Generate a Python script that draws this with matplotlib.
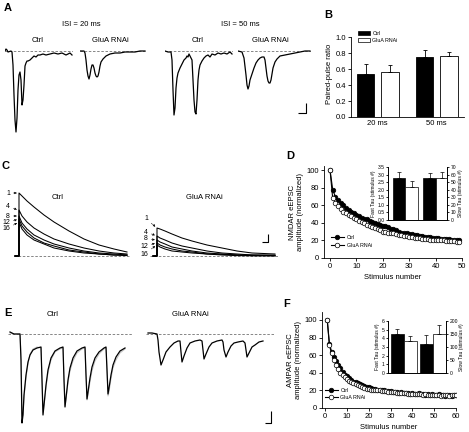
import numpy as np
import matplotlib.pyplot as plt
from matplotlib.patches import Patch

plt.rcParams['font.family'] = ['Liberation Sans', 'DejaVu Sans']
plt.rcParams['axes.linewidth'] = 0.6
plt.rcParams['xtick.major.width'] = 0.6
plt.rcParams['ytick.major.width'] = 0.6
plt.rcParams['xtick.major.size'] = 2
plt.rcParams['ytick.major.size'] = 2

# ---------------- data ----------------
# A: paired-pulse traces (time ms, current pA)
a_ctrl20_t = [0, 2.5, 5, 7.5, 15, 17.5, 20, 22.5, 25, 27.5, 30, 32.5, 35, 37.5, 40, 42.5, 45, 47.5, 50, 52.5, 55,
              57.5, 62.5, 67.5, 72.5, 77.5, 82.5, 87.5, 95, 102.5, 112.5, 122.5, 132.5, 142.5, 152.5, 162.5, 167.5]
a_ctrl20_i = [0, 20, 10, -10, 0, -10, -140, -440, -690, -810, -670, -390, -240, -210, -290, -540, -490, -340,
              -150, -120, -100, -100, -90, -70, -50, -60, -40, -40, -30, -40, -30, -20, -30, -20, -40, -20, -40]
a_glua20_t = [0, 10, 12.5, 15, 17.5, 20, 22.5, 25, 27.5, 30, 32.5, 35, 37.5, 40, 42.5, 45, 47.5, 50, 52.5, 57.5,
              65, 75, 87.5, 100, 112.5, 125, 137.5, 150, 162.5]
a_glua20_i = [0, 0, -20, -90, -190, -250, -280, -240, -180, -140, -140, -170, -220, -250, -260, -250, -210, -150,
              -110, -80, -50, -30, -20, -20, -10, -10, -10, 0, 0]
a_ctrl50_t = [0, 7.5, 15, 17.5, 20, 22.5, 25, 27.5, 30, 32.5, 37.5, 42.5, 47.5, 52.5, 55, 57.5, 60, 62.5, 65, 67.5,
              70, 72.5, 75, 77.5, 80, 82.5, 85, 87.5, 92.5, 97.5, 102.5, 107.5, 112.5, 117.5, 125, 132.5, 140,
              147.5, 155, 162.5, 167.5]
a_ctrl50_i = [0, -10, -10, -90, -390, -640, -570, -370, -270, -220, -170, -130, -90, -70, -50, -60, -30, -50, -70,
              -90, -290, -490, -610, -630, -490, -290, -190, -140, -100, -70, -50, -40, -60, -30, -40, -20, -30,
              -20, -30, -10, -30]
a_glua50_t = [0, 10, 15, 20, 22.5, 25, 27.5, 30, 35, 40, 45, 50, 55, 60, 65, 67.5, 70, 72.5, 75, 77.5, 80, 82.5,
              85, 87.5, 92.5, 97.5, 105, 117.5, 130, 142.5, 155, 167.5, 180]
a_glua50_i = [0, -10, -70, -240, -340, -380, -350, -290, -230, -170, -120, -90, -70, -60, -60, -90, -170, -250,
              -300, -320, -320, -290, -230, -170, -110, -80, -50, -40, -30, -20, -10, 0, 0]

# B: paired-pulse ratio
b_isi = ['20 ms', '50 ms']
b_ctrl = [0.54, 0.75]
b_ctrl_err = [0.12, 0.09]
b_glua = [0.57, 0.76]
b_glua_err = [0.08, 0.06]

# C: NMDAR train responses (time ms, current pA), stimuli 1, 4, 8, 12, 16
c_labels = ['1', '4', '8', '12', '16']
c_ctrl_t = [0, 30, 80, 150, 250, 350, 500, 650, 800, 950, 1080]
c_ctrl = [[315, 300, 275, 245, 205, 170, 125, 85, 55, 35, 20],
          [230, 200, 170, 140, 110, 85, 60, 40, 25, 15, 10],
          [200, 165, 135, 105, 80, 60, 40, 25, 15, 10, 5],
          [185, 150, 120, 90, 65, 50, 30, 20, 10, 5, 5],
          [170, 135, 105, 80, 60, 40, 25, 15, 10, 5, 2]]
c_glua_t = [0, 30, 80, 150, 250, 350, 500, 650, 800, 950, 1180]
c_glua = [[140, 135, 125, 110, 90, 75, 55, 40, 25, 15, 10],
          [100, 90, 80, 65, 50, 40, 25, 15, 10, 5, 5],
          [80, 70, 60, 45, 35, 25, 15, 10, 5, 5, 2],
          [65, 55, 45, 35, 25, 20, 10, 8, 5, 2, 1],
          [55, 45, 35, 25, 20, 15, 10, 5, 2, 1, 1]]

# D: NMDAR eEPSC amplitude (normalized) vs stimulus number
d_ctrl = [100, 78, 70, 66, 63, 60, 57, 55, 53, 51, 49, 48, 46, 45, 44, 42, 41, 40, 39, 38,
          37, 36, 35, 33, 33, 32, 30, 29, 29, 28, 27, 27, 26, 26, 25, 25, 24, 24, 24, 23,
          23, 23, 22, 22, 22, 22, 21, 21, 21, 20]
d_glua = [100, 68, 63, 59, 56, 53, 51, 49, 48, 46, 44, 42, 41, 40, 38, 36, 35, 34, 33, 32,
          30, 30, 29, 28, 28, 27, 26, 26, 25, 25, 24, 24, 23, 23, 23, 22, 22, 22, 21, 21,
          21, 20, 20, 20, 19, 19, 19, 19, 18, 18]
d_fast = [2.8, 2.2]
d_fast_err = [0.37, 0.37]
d_slow = [56, 56]
d_slow_err = [6, 7]

# E: AMPAR train responses (time ms, current pA)
e_ctrl_t = [0, 4, 8, 16, 20, 22, 24, 26, 28, 32, 36, 40, 46, 54, 62, 64, 66, 68, 72, 76, 82, 90, 100, 106, 108,
            110, 112, 116, 120, 126, 134, 144, 150, 152, 154, 156, 160, 164, 170, 178, 188, 192, 194, 196, 198,
            202, 206, 212, 220, 230]
e_ctrl_i = [20, 10, 0, 0, 0, -260, -890, -810, -610, -410, -280, -210, -160, -140, -130, -460, -810, -710, -510,
            -360, -240, -170, -140, -130, -460, -730, -640, -460, -340, -240, -170, -140, -130, -410, -650, -580,
            -440, -330, -240, -180, -140, -130, -360, -600, -540, -410, -310, -230, -170, -140]
e_ctrl2_i = [10, 5, 0, 0, 0, -200, -850, -800, -640, -440, -300, -200, -150, -130, -140, -430, -790, -720, -540,
             -390, -260, -180, -150, -140, -430, -720, -660, -490, -370, -270, -190, -150, -140, -400, -660, -610,
             -480, -370, -270, -200, -150, -140, -350, -620, -580, -450, -340, -260, -190, -150]
e_glua_t = [0, 8, 18, 20, 22, 26, 30, 36, 44, 52, 60, 64, 66, 68, 72, 78, 84, 94, 104, 108, 110, 112, 116, 122,
            128, 138, 148, 150, 152, 156, 160, 166, 172, 180, 190, 194, 196, 198, 202, 208, 214, 222, 230]
e_glua_i = [10, 10, 0, -60, -180, -310, -260, -180, -130, -90, -70, -70, -180, -280, -220, -140, -90, -70, -60,
            -70, -160, -250, -200, -130, -90, -70, -60, -80, -160, -230, -180, -120, -90, -80, -70, -90, -160,
            -230, -190, -130, -110, -80, -70]

# F: AMPAR eEPSC amplitude (normalized) vs stimulus number
f_ctrl = [100, 73, 64, 58, 53, 49, 45, 41, 38, 36, 34, 32, 30, 29, 28, 27, 26, 25, 24, 23.5,
          23, 22, 22, 21, 21, 20, 20, 19, 19, 19, 18, 18, 18, 17, 18, 17, 17, 17, 16, 17,
          16, 16, 17, 16, 16, 15, 16, 15, 16, 15, 15, 16, 15, 15, 14, 15, 15, 14, 15, 15]
f_glua = [100, 71, 62, 55, 49, 44, 40, 38, 35, 33, 31, 30, 28, 27, 26, 25, 24, 23, 22, 22,
          21, 21, 20, 20, 20, 19, 19, 19, 18, 18, 18, 18, 17, 17, 17, 17, 17, 16, 16, 16,
          16, 16, 16, 16, 15, 16, 15, 15, 15, 15, 15, 15, 14, 15, 15, 15, 14, 15, 15, 15]
f_fast = [4.5, 3.7]
f_fast_err = [0.55, 0.6]
f_slow = [113, 150]
f_slow_err = [35, 35]

# ---------------- figure ----------------
W, H = 469, 432
fig = plt.figure(figsize=(W / 100, H / 100), dpi=100)


def box(x0, y0, x1, y1):
    return fig.add_axes([x0 / W, 1 - y1 / H, (x1 - x0) / W, (y1 - y0) / H])


def label(x, y, s, **kw):
    kw.setdefault('fontsize', 5.5)
    kw.setdefault('ha', 'center')
    kw.setdefault('va', 'center')
    fig.text(x / W, 1 - y / H, s, **kw)


def trace_ax(x0, x1, ytop, ybot, t0, base, ms_px, pa_px, dashed=True):
    ax = box(x0, ytop, x1, ybot)
    ax.set_xlim((x0 - t0) * ms_px, (x1 - t0) * ms_px)
    ax.set_ylim(-(ybot - base) * pa_px, (base - ytop) * pa_px)
    ax.axis('off')
    if dashed:
        ax.axhline(0, color='0.45', lw=0.6, ls=(0, (3, 2)))
    return ax


def scalebar(ax, x, y, dx, dy):
    ax.plot([x, x + dx, x + dx], [y, y, y + dy], color='k', lw=0.8, solid_capstyle='butt')


# panel letters
for lx, ly, s in [(4, 3, 'A'), (324, 10, 'B'), (2, 161, 'C'), (286, 151, 'D'), (4, 308, 'E'), (283, 299, 'F')]:
    label(lx, ly, s, fontsize=8, fontweight='bold', ha='left', va='top')

# ---- A ----
label(81, 24, 'ISI = 20 ms')
label(240, 24, 'ISI = 50 ms')
label(38, 40, 'Ctrl')
label(110, 40, 'GluA RNAi')
label(198, 40, 'Ctrl')
label(270, 40, 'GluA RNAi')

ax = trace_ax(5, 73, 45, 140, 5, 51, 2.5, 10)
ax.plot(a_ctrl20_t, a_ctrl20_i, color='k', lw=0.9)
ax = trace_ax(80, 146, 45, 140, 80, 51, 2.5, 10)
ax.plot(a_glua20_t, a_glua20_i, color='k', lw=0.9)
ax = trace_ax(165, 233, 45, 140, 165, 51, 2.5, 10)
ax.plot(a_ctrl50_t, a_ctrl50_i, color='k', lw=0.9)
ax = trace_ax(238, 311, 45, 140, 238, 51, 2.5, 10)
ax.plot(a_glua50_t, a_glua50_i, color='k', lw=0.9)
scalebar(ax, 150, -620, 20, 100)

# ---- B ----
axb = box(351, 30, 464, 117)
xb = np.arange(len(b_isi))
wb = 0.296
axb.bar(xb - 0.207, b_ctrl, wb, color='k', edgecolor='k', lw=0.6,
        yerr=[[0, 0], b_ctrl_err], error_kw=dict(lw=0.6, capsize=1.5, capthick=0.6))
axb.bar(xb + 0.207, b_glua, wb, color='w', edgecolor='k', lw=0.6,
        yerr=[[0, 0], b_glua_err], error_kw=dict(lw=0.6, capsize=1.5, capthick=0.6))
axb.set_xlim(-0.453, 1.462)
axb.set_ylim(0, 1.09)
axb.spines['left'].set_bounds(0, 1.0)
axb.set_yticks(np.arange(0, 1.01, 0.2))
axb.set_yticklabels([f'{v:.1f}' for v in np.arange(0, 1.01, 0.2)], fontsize=5.5)
axb.set_xticks(xb)
axb.set_xticklabels(b_isi, fontsize=5.5)
axb.tick_params(axis='x', length=0, pad=2)
axb.tick_params(axis='y', pad=1.5)
for s in ['top', 'right']:
    axb.spines[s].set_visible(False)
axb.set_ylabel('Paired-pulse ratio', fontsize=5.5, labelpad=2)
axb.legend([Patch(facecolor='k', edgecolor='k', lw=0.5), Patch(facecolor='w', edgecolor='k', lw=0.5)],
           ['Ctrl', 'GluA RNAi'], loc='upper left', bbox_to_anchor=(0.04, 1.02), frameon=False,
           fontsize=3.8, handlelength=2.2, handleheight=0.9, labelspacing=0.35, borderpad=0, handletextpad=0.5)

# ---- C ----
label(58, 197, 'Ctrl')
label(204, 197, 'GluA RNAi')
arrow_kw = dict(arrowstyle='-|>', lw=0.4, mutation_scale=3, shrinkA=0.5, shrinkB=1.5, ls=(0, (2, 1)), color='k')
axc = trace_ax(14, 130, 185, 262, 19, 256, 10, 5)
for amps in c_ctrl:
    axc.plot([-40, 0] + c_ctrl_t, [0, 0] + amps, color='k', lw=0.75)
c_ctrl_off = [0, 3, 0, -4, -7]
for lab, amps, dy in zip(c_labels, c_ctrl, c_ctrl_off):
    axc.annotate(lab, xy=(0, amps[0]), xytext=(-9, dy), textcoords='offset pixels', ha='right', va='center',
                 fontsize=5, annotation_clip=False, arrowprops=arrow_kw)
axg = trace_ax(150, 278, 185, 262, 157, 256, 10, 5)
for amps in c_glua:
    axg.plot([-40, 0] + c_glua_t, [0, 0] + amps, color='k', lw=0.75)
c_glua_off = [9, 4, 1, -3, -9]
for lab, amps, dy in zip(c_labels, c_glua, c_glua_off):
    axg.annotate(lab, xy=(0, amps[0]), xytext=(-9, dy), textcoords='offset pixels', ha='right', va='center',
                 fontsize=5, annotation_clip=False, arrowprops=arrow_kw)
scalebar(axg, 1050, 70, 60, 40)


# ---- D and F ----
def decay_panel(rect, xs, ctrl, glua, xlim, ylim, xticks, ylabel):
    ax = box(*rect)
    ax.plot(xs, ctrl, '-o', color='k', lw=0.8, ms=3.3, mfc='k', mec='k', mew=0.5, label='Ctrl')
    ax.plot(xs, glua, '-o', color='k', lw=0.8, ms=3.3, mfc='w', mec='k', mew=0.5, label='GluA RNAi')
    ax.set_xlim(*xlim)
    ax.set_ylim(*ylim)
    ax.set_xticks(xticks)
    ax.set_yticks(np.arange(0, 101, 20))
    ax.tick_params(labelsize=5.5, pad=1.5)
    for s in ['top', 'right']:
        ax.spines[s].set_visible(False)
    ax.set_xlabel('Stimulus number', fontsize=5.5, labelpad=3)
    ax.set_ylabel(ylabel, fontsize=5.5, labelpad=2, linespacing=1.1)
    return ax


axd = decay_panel((324, 166, 462, 258), np.arange(len(d_ctrl)), d_ctrl, d_glua, (-2.3, 50), (0, 105),
                  np.arange(0, 51, 10), 'NMDAR eEPSC\namplitude (normalized)')
axd.legend(loc='upper left', bbox_to_anchor=(0.03, 0.28), frameon=False, fontsize=3.8, handlelength=2.5,
           labelspacing=0.5, borderpad=0, handletextpad=0.5)

axf = decay_panel((322, 312, 456, 408), np.arange(1, len(f_ctrl) + 1), f_ctrl, f_glua, (-1.4, 60), (0, 109),
                  np.arange(0, 61, 10), 'AMPAR eEPSC\namplitude (normalized)')
axf.legend(loc='upper left', bbox_to_anchor=(0.0, 0.24), frameon=False, fontsize=3.8, handlelength=2.5,
           labelspacing=0.5, borderpad=0, handletextpad=0.5)


def tau_inset(rect, fast, fast_err, slow, slow_err, fast_max, fast_step, slow_max, slow_step, xlim, w, fmt):
    ax = box(*rect)
    ax2 = ax.twinx()
    ek = dict(lw=0.5, capsize=1.2, capthick=0.5)
    ax.bar([-w / 2, w / 2], fast, w, color=['k', 'w'], edgecolor='k', lw=0.5,
           yerr=[[0, 0], fast_err], error_kw=ek)
    ax2.bar([1 - w / 2, 1 + w / 2], slow, w, color=['k', 'w'], edgecolor='k', lw=0.5,
            yerr=[[0, 0], slow_err], error_kw=ek)
    ax.set_xlim(*xlim)
    ax.set_ylim(0, fast_max)
    ax2.set_ylim(0, slow_max)
    fticks = np.arange(0, fast_max + 1e-9, fast_step)
    ax.set_yticks(fticks)
    ax.set_yticklabels([fmt.format(v) for v in fticks])
    ax2.set_yticks(np.arange(0, slow_max + 1, slow_step))
    ax.set_xticks([])
    for a in (ax, ax2):
        a.spines['top'].set_visible(False)
        a.tick_params(labelsize=3.6, length=1.5, pad=1)
    ax.set_ylabel('Fast Tau (stimulus #)', fontsize=3.6, labelpad=1)
    ax2.set_ylabel('Slow Tau (stimulus #)', fontsize=3.6, labelpad=1)
    return ax


tau_inset((388, 167, 447, 220), d_fast, d_fast_err, d_slow, d_slow_err, 3.5, 0.5, 70, 10,
          (-0.57, 1.36), 0.42, '{:.1f}')
tau_inset((388, 321, 446, 373), f_fast, f_fast_err, f_slow, f_slow_err, 6, 1, 200, 50,
          (-0.55, 1.45), 0.45, '{:.0f}')

# ---- E ----
label(53, 315, 'Ctrl')
label(190, 315, 'GluA RNAi')
axe = trace_ax(8, 132, 325, 430, 10, 334, 2, 10)
axe.plot(e_ctrl_t, e_ctrl2_i, color='0.75', lw=0.7)
axe.plot(e_ctrl_t, e_ctrl_i, color='k', lw=0.9)
axe2 = trace_ax(146, 274, 325, 430, 148, 334, 2, 10)
axe2.plot(e_glua_t, e_glua_i, color='k', lw=0.9)
scalebar(axe2, 234, -890, 12, 120)

fig.savefig('out.png', dpi=100)
